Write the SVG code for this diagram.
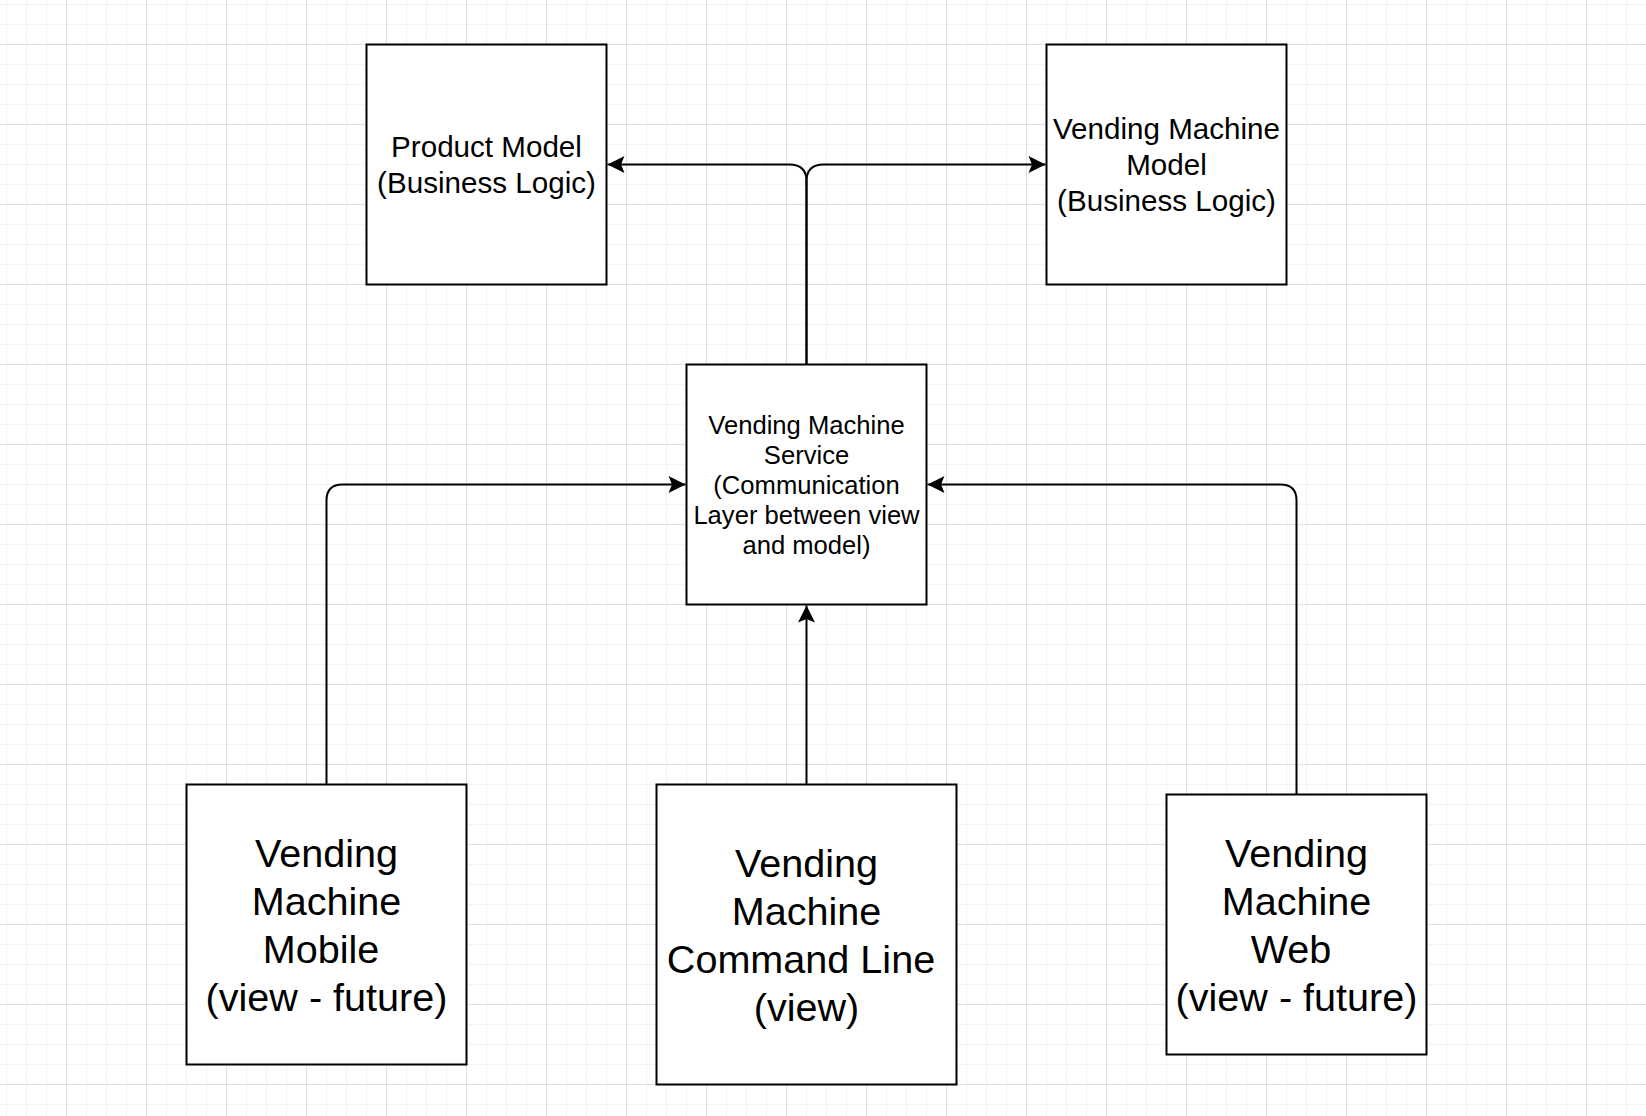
<svg xmlns="http://www.w3.org/2000/svg" width="1646" height="1116" viewBox="0 0 1646 1116">
<style>
.box{fill:#ffffff;stroke:#000000;stroke-width:2}
.edge{fill:none;stroke:#000000;stroke-width:2}
.t{font-family:"Liberation Sans",Arial,Helvetica,sans-serif;fill:#000000;text-anchor:middle}
.t30{font-size:29.6px}
.t25{font-size:25.6px}
.t40{font-size:39.6px}
</style>
<defs>
<pattern id="grid" patternUnits="userSpaceOnUse" x="6" y="4" width="80" height="80">
<rect x="0" y="0" width="80" height="80" fill="#ffffff"/>
<rect x="0" y="0" width="1" height="80" fill="#f3f3f3"/>
<rect x="20" y="0" width="1" height="80" fill="#f3f3f3"/>
<rect x="40" y="0" width="1" height="80" fill="#f3f3f3"/>
<rect x="0" y="0" width="80" height="1" fill="#f3f3f3"/>
<rect x="0" y="20" width="80" height="1" fill="#f3f3f3"/>
<rect x="0" y="60" width="80" height="1" fill="#f3f3f3"/>
<rect x="60" y="0" width="1" height="80" fill="#e0e0e0"/>
<rect x="0" y="40" width="80" height="1" fill="#e0e0e0"/>
</pattern>
<marker id="arrow" markerUnits="userSpaceOnUse" viewBox="-18 -10 20 20" refX="0" refY="0" markerWidth="20" markerHeight="20" orient="auto">
<path d="M0,0 L-17,-8.5 L-13.5,0 L-17,8.5 Z" fill="#000000"/>
</marker>
</defs>
<rect x="0" y="0" width="1646" height="1116" fill="url(#grid)"/>

<g id="connectors">
<path class="edge" d="M806.5,364.5 L806.5,181.5 Q806.5,164.5 789.5,164.5 L607.5,164.5" marker-end="url(#arrow)"/>
<path class="edge" d="M806.5,364.5 L806.5,181.5 Q806.5,164.5 823.5,164.5 L1045.5,164.5" marker-end="url(#arrow)"/>
<path class="edge" d="M326.5,784.5 L326.5,500.5 Q326.5,484.5 342.5,484.5 L685.5,484.5" marker-end="url(#arrow)"/>
<path class="edge" d="M806.5,784.5 L806.5,605.5" marker-end="url(#arrow)"/>
<path class="edge" d="M1296.5,794.5 L1296.5,500.5 Q1296.5,484.5 1280.5,484.5 L927.5,484.5" marker-end="url(#arrow)"/>
</g>

<g id="product-model">
<rect class="box" x="366.5" y="44.5" width="240" height="240"/>
<text class="t t30" x="486.5" y="157">Product Model</text>
<text class="t t30" x="486.5" y="193">(Business Logic)</text>
</g>

<g id="vending-machine-model">
<rect class="box" x="1046.5" y="44.5" width="240" height="240"/>
<text class="t t30" x="1166.5" y="139">Vending Machine</text>
<text class="t t30" x="1166.5" y="175">Model</text>
<text class="t t30" x="1166.5" y="211">(Business Logic)</text>
</g>

<g id="vending-machine-service">
<rect class="box" x="686.5" y="364.5" width="240" height="240"/>
<text class="t t25" x="806.5" y="434">Vending Machine</text>
<text class="t t25" x="806.5" y="464">Service</text>
<text class="t t25" x="806.5" y="494">(Communication</text>
<text class="t t25" x="806.5" y="524">Layer between view</text>
<text class="t t25" x="806.5" y="554">and model)</text>
</g>

<g id="vending-machine-mobile">
<rect class="box" x="186.5" y="784.5" width="280" height="280"/>
<text class="t t40" x="326.5" y="866.5">Vending</text>
<text class="t t40" x="326.5" y="914.5">Machine</text>
<text class="t t40" x="321" y="962.5">Mobile</text>
<text class="t t40" x="326.5" y="1010.5">(view - future)</text>
</g>

<g id="vending-machine-command-line">
<rect class="box" x="656.5" y="784.5" width="300" height="300"/>
<text class="t t40" x="806.5" y="876.5">Vending</text>
<text class="t t40" x="806.5" y="924.5">Machine</text>
<text class="t t40" x="801" y="972.5">Command Line</text>
<text class="t t40" x="806.5" y="1020.5">(view)</text>
</g>

<g id="vending-machine-web">
<rect class="box" x="1166.5" y="794.5" width="260" height="260"/>
<text class="t t40" x="1296.5" y="866.5">Vending</text>
<text class="t t40" x="1296.5" y="914.5">Machine</text>
<text class="t t40" x="1291" y="962.5">Web</text>
<text class="t t40" x="1296.5" y="1010.5">(view - future)</text>
</g>
</svg>
